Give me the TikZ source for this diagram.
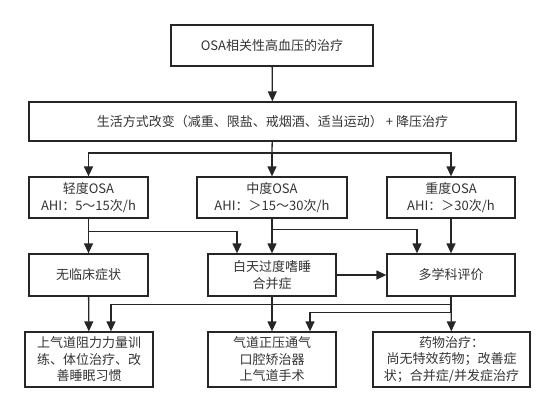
\documentclass[tikz,border=0pt]{standalone}
\usepackage{fontspec}
\setmainfont{Noto Sans CJK SC}
\usetikzlibrary{arrows.meta}

\tikzset{
	box/.style = {draw = black!85, line width = 1.3pt, align = center, inner sep = 2pt, text = black!80, font = \fontsize{13pt}{16.5pt}\selectfont},
	link/.style = {draw = black!85, line width = 1.3pt}
}

\begin{document}
\begin{tikzpicture}[x = 1pt, y = -1pt, >= {Triangle[length = 10pt, width = 9pt]}]
	 \useasboundingbox (0, 0) rectangle (554, 413);
	 
	 \node[box, minimum width = 202pt, minimum height = 41pt] (top) at (272, 45.5) {OSA相关性高血压的治疗};
	 \node[box, minimum width = 487pt, minimum height = 39pt] (life) at (272.5, 121.5) {生活方式改变（减重、限盐、戒烟酒、适当运动） + 降压治疗};
	 
	 \node[box, minimum width = 119pt, minimum height = 41pt] (mild) at (88.5, 197.5) {轻度OSA\\AHI：5～15次/h};
	 \node[box, minimum width = 150pt, minimum height = 41pt] (moderate) at (272, 197.5) {中度OSA\\AHI：＞15～30次/h};
	 \node[box, minimum width = 128pt, minimum height = 41pt] (severe) at (451, 197.5) {重度OSA\\AHI：＞30次/h};
	 
	 \node[box, minimum width = 119pt, minimum height = 42pt] (none) at (88.5, 275) {无临床症状};
	 \node[box, minimum width = 128pt, minimum height = 42pt] (eds) at (272, 275) {白天过度嗜睡\\合并症};
	 \node[box, minimum width = 128pt, minimum height = 42pt] (mdt) at (451, 275) {多学科评价};
	 
	 \node[box, minimum width = 128pt, minimum height = 55pt] (train) at (89, 359.5) {上气道阻力力量训\\练、体位治疗、改\\善睡眠习惯};
	 \node[box, minimum width = 128pt, minimum height = 55pt] (cpap) at (272, 359.5) {气道正压通气\\口腔矫治器\\上气道手术};
	 \node[box, minimum width = 157pt, minimum height = 55pt] (drug) at (451.5, 359.5) {药物治疗：\\尚无特效药物；改善症\\状；合并症/并发症治疗};
	 
	 % first split
	 \coordinate (split) at (272, 153);
	 \draw[link, ->] (top) -- (life);
	 \draw[link] (life) -- (split);
	 \draw[link, ->] (split) -- (moderate);
	 \draw[link, ->] (split) -| (mild);
	 \draw[link, ->] (split) -| (severe);
	 
	 % OSA grades to second row
	 \draw[link, ->] (mild) -- (none);
	 \draw[link, ->] (mild.south) |- ([xshift = -35pt, yshift = 22pt]eds.north) -- ([xshift = -35pt]eds.north);
	 \draw[link, ->] (moderate) -- (eds);
	 \draw[link, ->] (moderate.south) |- ([xshift = -34pt, yshift = 24pt]mdt.north) -- ([xshift = -34pt]mdt.north);
	 \draw[link, ->] (severe) -- (mdt);
	 \draw[link, ->] (eds) -- (mdt);
	 
	 % treatments
	 \draw[link, ->] (none) -- (train);
	 \draw[link, ->] (eds) -- (cpap);
	 \draw[link, ->] (mdt) -- (drug);
	 \draw[link, ->] (mdt.south) |- ([xshift = 22pt, yshift = 27pt]train.north) -- ([xshift = 22pt]train.north);
	 \draw[link, ->] (mdt.south) |- ([xshift = 38pt, yshift = 19pt]cpap.north) -- ([xshift = 38pt]cpap.north);
\end{tikzpicture}
\end{document}
